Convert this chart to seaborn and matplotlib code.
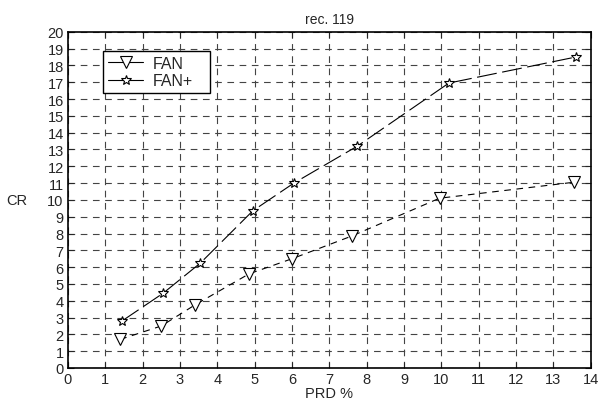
import numpy as np
import pandas as pd
import matplotlib
matplotlib.use('Agg')
import matplotlib.pyplot as plt
import seaborn as sns

# values
fan_prd = [1.4, 2.5, 3.4, 4.85, 6.0, 7.6, 9.95, 13.55]
fan_cr = [1.7, 2.5, 3.75, 5.6, 6.5, 7.85, 10.1, 11.05]
fanplus_prd = [1.45, 2.55, 3.55, 4.95, 6.05, 7.75, 10.2, 13.6]
fanplus_cr = [2.8, 4.45, 6.25, 9.35, 11.0, 13.2, 16.95, 18.5]
x_ticks = list(range(0, 15))
y_ticks = list(range(0, 21))

sns.set_style('ticks')
plt.rcParams['font.family'] = ['Liberation Sans', 'DejaVu Sans']
plt.rcParams['font.size'] = 10

fig = plt.figure(figsize=(6.01, 4.10), dpi=100)
ax = fig.add_axes([0.113, 0.100, 0.870, 0.820])

sns.lineplot(x=fan_prd, y=fan_cr, ax=ax, sort=False, color='black', lw=0.8,
             linestyle=(0, (6, 5)), marker='v', markersize=8.5,
             markerfacecolor='white', markeredgecolor='black', markeredgewidth=0.8,
             label='FAN')
sns.lineplot(x=fanplus_prd, y=fanplus_cr, ax=ax, sort=False, color='black', lw=0.8,
             linestyle=(0, (18, 5)), marker='*', markersize=7.5,
             markerfacecolor='white', markeredgecolor='black', markeredgewidth=0.8,
             label='FAN+')

ax.set_xlim(0, 14)
ax.set_ylim(0, 20)
ax.set_xticks(x_ticks)
ax.set_yticks(y_ticks)
ax.grid(True, color='#444444', linestyle=(0, (6, 5)), linewidth=0.8)
ax.tick_params(direction='in', top=True, right=True, length=4, width=0.8,
               labelsize=10.5, pad=3)
for s in ax.spines.values():
    s.set_linewidth(1.2)
    s.set_color('black')

ax.set_title('rec. 119', fontsize=10, pad=6)
ax.set_xlabel('PRD %', fontsize=10.5, labelpad=0)
ax.set_ylabel('CR', fontsize=10.5, rotation=0, labelpad=22, va='center')

# legend box stretched to the size of the one in the reference
leg = ax.legend(loc='upper left', bbox_to_anchor=(0.0675, 0.827, 0.205, 0.116),
                mode='expand', borderaxespad=0, fontsize=11.5,
                frameon=True, fancybox=False, edgecolor='black', handlelength=2.2,
                borderpad=0.3, labelspacing=0.15, handletextpad=0.6)
leg.get_frame().set_linewidth(1.0)
leg.get_frame().set_alpha(1)
for h in leg.legend_handles:
    h.set_linestyle('-')

fig.savefig('out.png', dpi=100)
